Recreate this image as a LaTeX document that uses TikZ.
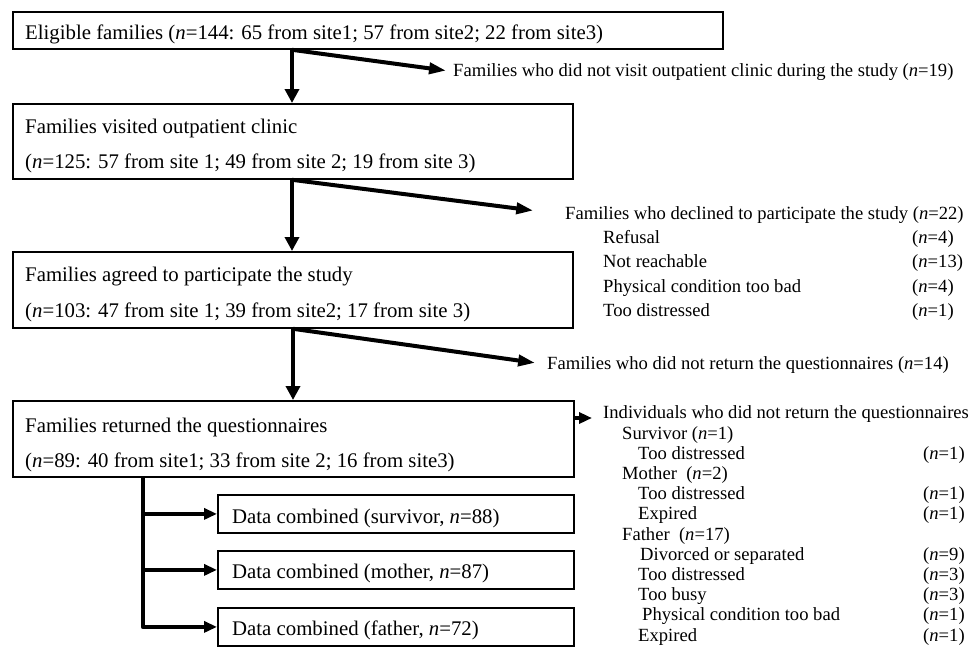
\documentclass[tikz,border=0pt]{standalone}
\usepackage{fontspec}
\setmainfont{Liberation Serif}
\usetikzlibrary{arrows.meta}
\begin{document}
\begin{tikzpicture}[x=1pt,y=-1pt,
  box/.style={draw, line width=1.8pt, anchor=north west, inner sep=0pt},
  btxt/.style={anchor=base west, inner sep=0pt, font=\fontsize{20.8}{24}\selectfont},
  stxt/.style={anchor=base west, inner sep=0pt, font=\fontsize{18.6}{22}\selectfont},
  varrow/.style={line width=4pt, -{Triangle[length=14pt,width=14pt]}},
  darrow/.style={line width=4pt, -{Triangle[length=17pt,width=11pt]}},
  harrow/.style={line width=4.5pt, line join=round, -{Triangle[length=13pt,width=11pt]}},
]
\useasboundingbox (0,0) rectangle (973,648);

% boxes
\node[box, minimum width=710pt, minimum height=37pt] (b1) at (12,11) {};
\node[box, minimum width=560pt, minimum height=75pt] (b2) at (12,103) {};
\node[box, minimum width=560pt, minimum height=76pt] (b3) at (12,251) {};
\node[box, minimum width=561pt, minimum height=76pt] (b4) at (12,400) {};
\node[box, minimum width=356pt, minimum height=38pt] (d1) at (217,494) {};
\node[box, minimum width=356pt, minimum height=38pt] (d2) at (217,550) {};
\node[box, minimum width=356pt, minimum height=38pt] (d3) at (217,607) {};

% box texts
\node[btxt] (b1t) at (25,39) {Eligible families (\textit{n}=144: 65 from site1; 57 from site2; 22 from site3)};
\node[btxt] (b2a) at (25,133) {Families visited outpatient clinic};
\node[btxt] (b2b) at (25,168) {(\textit{n}=125: 57 from site 1; 49 from site 2; 19 from site 3)};
\node[btxt] (b3a) at (25,281) {Families agreed to participate the study};
\node[btxt] (b3b) at (25,317) {(\textit{n}=103: 47 from site 1; 39 from site2; 17 from site 3)};
\node[btxt] (b4a) at (25,432) {Families returned the questionnaires};
\node[btxt] (b4b) at (25,467) {(\textit{n}=89: 40 from site1; 33 from site 2; 16 from site3)};
\node[btxt] (d1t) at (232,523) {Data combined (survivor, \textit{n}=88)};
\node[btxt] (d2t) at (232,578) {Data combined (mother, \textit{n}=87)};
\node[btxt] (d3t) at (232,635) {Data combined (father, \textit{n}=72)};

% side texts
\node[stxt] (t1) at (453,76) {Families who did not visit outpatient clinic during the study (\textit{n}=19)};
\node[stxt] (t2) at (565,219) {Families who declined to participate the study (\textit{n}=22)};
\node[stxt] (r1) at (603,243) {Refusal};
\node[stxt] (r2) at (603,267) {Not reachable};
\node[stxt] (r3) at (603,292) {Physical condition too bad};
\node[stxt] (r4) at (603,316) {Too distressed};
\node[stxt] (r1n) at (912,243) {(\textit{n}=4)};
\node[stxt] (r2n) at (912,267) {(\textit{n}=13)};
\node[stxt] (r3n) at (912,292) {(\textit{n}=4)};
\node[stxt] (r4n) at (912,316) {(\textit{n}=1)};
\node[stxt] (t3) at (547,369) {Families who did not return the questionnaires (\textit{n}=14)};
\node[stxt] (t4) at (603,418) {Individuals who did not return the questionnaires};
\node[stxt] (s1) at (622,439) {Survivor (\textit{n}=1)};
\node[stxt] (s2) at (638,459.2) {Too distressed};
\node[stxt] (s3) at (622,479.4) {Mother~~(\textit{n}=2)};
\node[stxt] (s4) at (638,499.6) {Too distressed};
\node[stxt] (s5) at (638,519.8) {Expired};
\node[stxt] (s6) at (622,540) {Father~~(\textit{n}=17)};
\node[stxt] (s7) at (640,560.2) {Divorced or separated};
\node[stxt] (s8) at (638,580.4) {Too distressed};
\node[stxt] (s9) at (638,600.6) {Too busy};
\node[stxt] (s10) at (642,620.8) {Physical condition too bad};
\node[stxt] (s11) at (638,641) {Expired};
\node[stxt] (s2n) at (923,459.2) {(\textit{n}=1)};
\node[stxt] (s4n) at (923,499.6) {(\textit{n}=1)};
\node[stxt] (s5n) at (923,519.8) {(\textit{n}=1)};
\node[stxt] (s7n) at (923,560.2) {(\textit{n}=9)};
\node[stxt] (s8n) at (923,580.4) {(\textit{n}=3)};
\node[stxt] (s9n) at (923,600.6) {(\textit{n}=3)};
\node[stxt] (s10n) at (923,620.8) {(\textit{n}=1)};
\node[stxt] (s11n) at (923,641) {(\textit{n}=1)};

% connectors
\coordinate (cx) at (292,0);
\coordinate (cx3) at (293,0);
\coordinate (hy) at (0,418);
\coordinate (bx) at (143,0);

\draw[varrow] (b1.south -| cx) -- (b2.north -| cx);
\draw[darrow, shorten >=7pt] (b1.south -| cx) -- (t1.west);
\draw[varrow] (b2.south -| cx) -- (b3.north -| cx);
\draw[darrow, shorten >=32pt] (b2.south -| cx) -- (t2.west);
\draw[varrow] (b3.south -| cx3) -- (b4.north -| cx3);
\draw[darrow, shorten >=12pt] (b3.south -| cx3) -- (t3.west);
\draw[harrow, shorten >=11pt] (b4.east |- hy) -- (t4.west |- hy);

\draw[harrow] (b4.south -| bx) |- (d3.west);
\draw[harrow] (d1.west -| bx) -- (d1.west);
\draw[harrow] (d2.west -| bx) -- (d2.west);
\end{tikzpicture}
\end{document}
